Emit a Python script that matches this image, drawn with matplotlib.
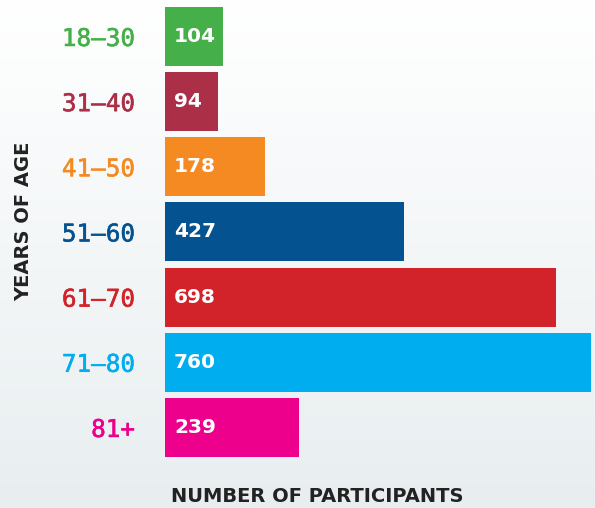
import matplotlib
matplotlib.use("Agg")
import matplotlib.pyplot as plt
import matplotlib.patheffects as pe
import numpy as np

categories = ["18–30", "31–40", "41–50", "51–60", "61–70", "71–80", "81+"]
values = [104, 94, 178, 427, 698, 760, 239]
colors = ["#45b04a", "#ab2f47", "#f58a22", "#04528f", "#d2232a", "#00aeef", "#ec008c"]
xlabel = "NUMBER OF PARTICIPANTS"
ylabel = "YEARS OF AGE"

W, H = 595, 508
fig = plt.figure(figsize=(W / 100, H / 100), dpi=100)

# background gradient
bg = fig.add_axes([0, 0, 1, 1], zorder=-10)
grad = np.linspace(0, 1, 256)[:, None]
top = np.array([1.0, 1.0, 1.0])
bot = np.array([0xe8, 0xee, 0xf0]) / 255
img = top[None, None, :] * (1 - grad[:, :, None]) + bot[None, None, :] * grad[:, :, None]
bg.imshow(img, aspect="auto", extent=[0, 1, 0, 1])
bg.axis("off")

left, right = 165 / W, 591 / W
ytop, ybot = 3.9 / H, 460 / H
ax = fig.add_axes([left, 1 - ybot, right - left, ybot - ytop])
ax.patch.set_alpha(0)
y = np.arange(len(categories))
ax.barh(y, values, color=colors, height=0.905)
ax.set_xlim(0, 760)
ax.set_ylim(len(categories) - 0.5, -0.5)
for s in ax.spines.values():
    s.set_visible(False)
ax.set_xticks([])
ax.set_yticks(y)
ax.set_yticklabels(categories, family=["DejaVu Sans Mono"], fontsize=17.5)
ax.tick_params(axis="y", length=0, pad=21.6)
for lab, c in zip(ax.get_yticklabels(), colors):
    lab.set_color(c)
    lab.set_path_effects([pe.withStroke(linewidth=0.4, foreground=c)])

for yi, v in zip(y, values):
    ax.text(9 / 0.5605, yi, str(v), color="white", fontsize=14.5, fontweight="bold",
            va="center", ha="left", family=["DejaVu Sans"])

fig.text(317 / W, 1 - 496 / H, xlabel, ha="center", va="center", fontsize=14,
         color="#222222", family=["DejaVu Sans"], fontweight="bold")
fig.text(24 / W, 1 - 221 / H, ylabel, ha="center", va="center", fontsize=14,
         color="#222222", family=["DejaVu Sans"], fontweight="bold", rotation=90)

fig.savefig("out.png", dpi=100)
